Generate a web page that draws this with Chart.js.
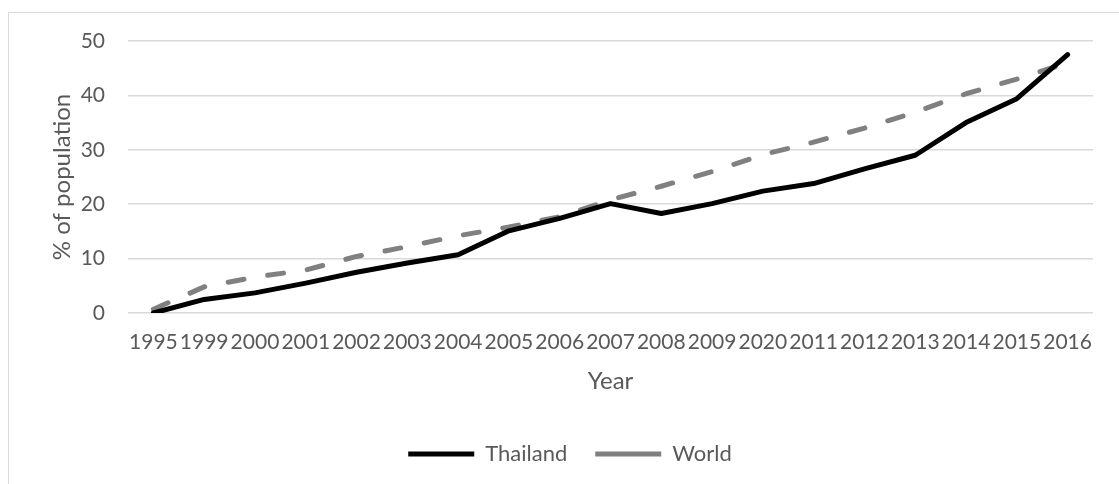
<!DOCTYPE html>
<html>
<head>
<meta charset="utf-8">
<script src="https://cdn.jsdelivr.net/npm/chart.js@4.4.0/dist/chart.umd.min.js"></script>
<style>
  html, body { margin: 0; padding: 0; background: #fff; overflow: hidden; }
  #moldura { position: absolute; left: 8px; top: 12px; width: 1200px; height: 600px; border: 1px solid #d9d9d9; }
  #wrap { position: absolute; left: 0; top: 0; }
</style>
</head>
<body>
<div id="moldura"></div>
<div id="wrap"><canvas id="grafico" width="1119" height="484"></canvas></div>
<script>
// 1. DADOS
const anos = ['1995', '1999', '2000', '2001', '2002', '2003', '2004', '2005', '2006', '2007',
              '2008', '2009', '2020', '2011', '2012', '2013', '2014', '2015', '2016'];
const thailand = [0, 2.5, 3.7, 5.5, 7.5, 9.2, 10.7, 15.1, 17.4, 20.1,
                  18.3, 20.1, 22.4, 23.8, 26.5, 29.0, 35.0, 39.4, 47.5];
const world = [0.7, 4.8, 6.6, 7.9, 10.4, 12.2, 14.2, 15.8, 17.7, 20.8,
               23.3, 26.0, 29.1, 31.4, 34.0, 36.9, 40.3, 43.0, 46.0];
const yMin = 0;
const yMax = 50;
const yStep = 10;

// 2. ESTILO COMUM
const fonte = "Lato, 'Open Sans', sans-serif";
const corTexto = '#595959';
const corGrade = '#d9d9d9';

// empurra a legenda alguns pixels para a direita, como no original
const deslocaLegenda = {
    id: 'deslocaLegenda',
    afterLayout(chart) {
        chart.legend.left += 5;
        chart.legend.right += 5;
    }
};

// 3. GRÁFICO
const ctx = document.getElementById('grafico').getContext('2d');
const grafico = new Chart(ctx, {
    type: 'line',
    data: {
        labels: anos,
        datasets: [
            {
                label: 'Thailand',
                data: thailand,
                borderColor: '#000000',
                backgroundColor: '#000000',
                borderWidth: 5,
                borderJoinStyle: 'round',
                borderCapStyle: 'round',
                pointRadius: 0,
                tension: 0
            },
            {
                label: 'World',
                data: world,
                borderColor: '#808080',
                backgroundColor: '#808080',
                borderWidth: 5,
                borderDash: [16, 24],
                borderCapStyle: 'round',
                borderJoinStyle: 'round',
                pointRadius: 0,
                tension: 0
            }
        ]
    },
    options: {
        responsive: false,
        animation: false,
        layout: { padding: { top: 41, right: 26, left: 37, bottom: 9 } },
        plugins: {
            tooltip: { enabled: false },
            legend: {
                position: 'bottom',
                labels: {
                    usePointStyle: true,
                    pointStyle: 'line',
                    pointStyleWidth: 66,
                    padding: 28,
                    color: corTexto,
                    font: { family: fonte, size: 22 }
                }
            }
        },
        scales: {
            x: {
                offset: true,
                afterFit: (escala) => { escala.height = 102; },
                grid: { display: false, drawTicks: false },
                border: { display: false },
                ticks: { color: corTexto, padding: 17, maxRotation: 0, autoSkip: false, font: { family: fonte, size: 21 } },
                title: { display: true, text: 'Year', color: corTexto, padding: { top: 0, bottom: 19 }, font: { family: fonte, size: 24 } }
            },
            y: {
                min: yMin,
                max: yMax,
                afterFit: (escala) => { escala.width = 91; },
                grid: { color: corGrade, lineWidth: 1.5, drawTicks: false },
                border: { display: false },
                ticks: { stepSize: yStep, color: corTexto, padding: 23, font: { family: fonte, size: 21 } },
                title: { display: true, text: '% of population', color: corTexto, padding: { top: 11, bottom: 0 }, font: { family: fonte, size: 24 } }
            }
        }
    },
    plugins: [deslocaLegenda]
});
</script>
</body>
</html>
